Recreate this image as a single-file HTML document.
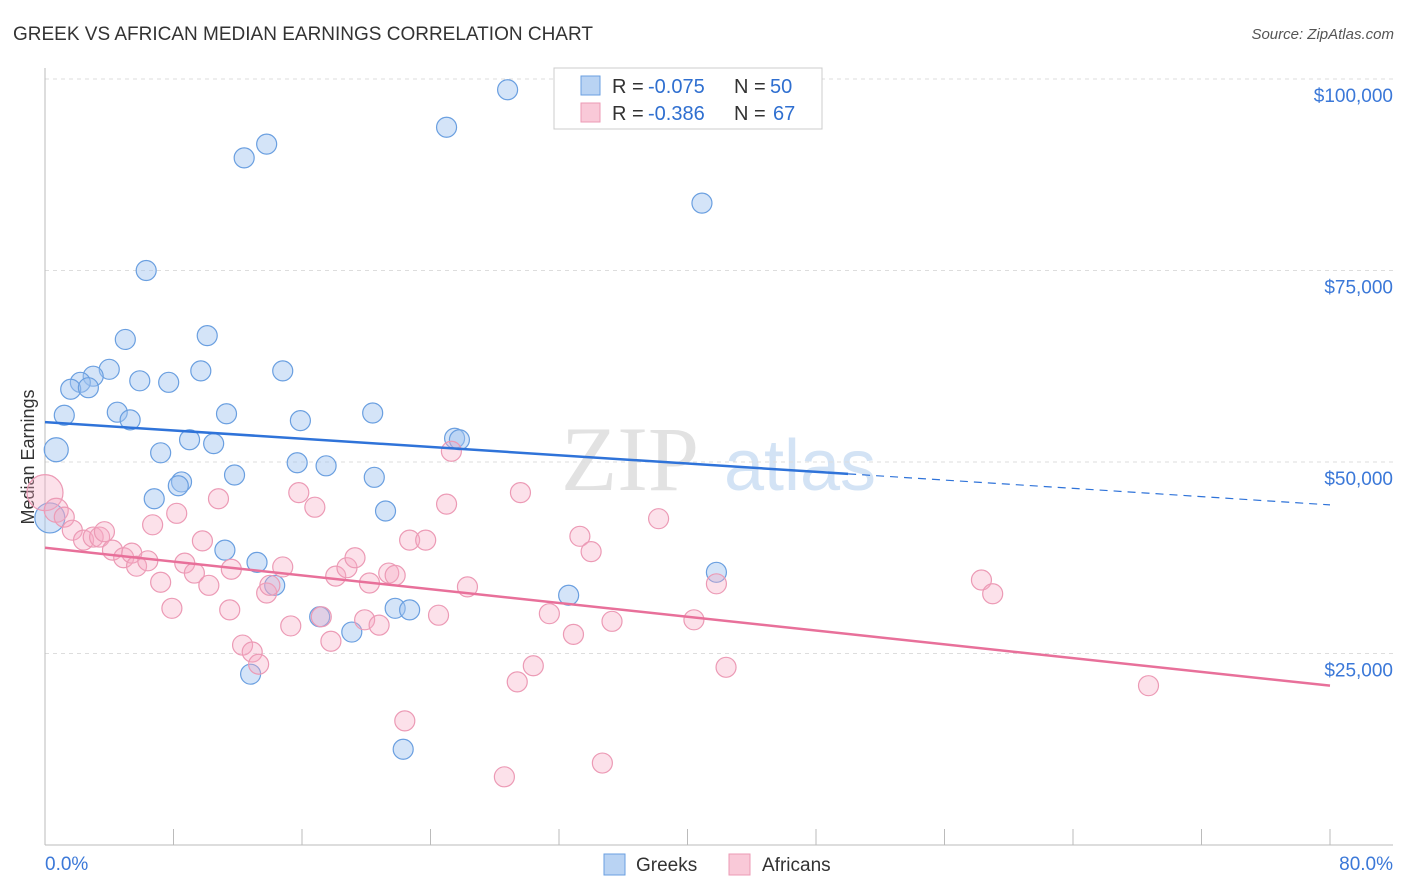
<!DOCTYPE html>
<html><head><meta charset="utf-8"><style>
body{margin:0;background:#fff;font-family:"Liberation Sans",sans-serif;}
svg{display:block}
</style></head><body>
<svg id="chart" width="1406" height="892" viewBox="0 0 1406 892" xmlns="http://www.w3.org/2000/svg">
<text x="13" y="40" font-size="19" fill="#333">GREEK VS AFRICAN MEDIAN EARNINGS CORRELATION CHART</text>
<text x="1394" y="39" font-size="15" fill="#555" text-anchor="end" font-style="italic">Source: ZipAtlas.com</text>
<text transform="translate(34,457) rotate(-90)" font-size="18" fill="#333" text-anchor="middle">Median Earnings</text>
<g>
<text x="630" y="490" font-size="92" fill="#e2e2e2" text-anchor="middle" font-family="Liberation Serif,serif">ZIP</text>
<text x="800" y="490" font-size="72" fill="#d3e3f5" text-anchor="middle">atlas</text>
</g>
<g id="grid"></g><g id="axes"></g><g id="marks"></g><g id="lines"></g>
<g>
<rect x="554" y="68" width="268" height="61" fill="#fff" stroke="#ccc"/>
<rect x="581" y="76" width="19" height="19" fill="#b9d3f3" stroke="#6a9fe0"/>
<rect x="581" y="103" width="19" height="19" fill="#f9c9d8" stroke="#ec9ab5"/>
<text x="612" y="93" font-size="20" fill="#333">R =</text>
<text x="648" y="93" font-size="20" fill="#2f6fd0">-0.075</text>
<text x="734" y="93" font-size="20" fill="#333">N =</text>
<text x="770" y="93" font-size="20" fill="#2f6fd0">50</text>
<text x="612" y="120" font-size="20" fill="#333">R =</text>
<text x="648" y="120" font-size="20" fill="#2f6fd0">-0.386</text>
<text x="734" y="120" font-size="20" fill="#333">N =</text>
<text x="773" y="120" font-size="20" fill="#2f6fd0">67</text>
</g>
<g>
<rect x="604" y="854" width="21" height="21" fill="#b9d3f3" stroke="#6a9fe0"/>
<text x="636" y="871" font-size="19" fill="#333">Greeks</text>
<rect x="729" y="854" width="21" height="21" fill="#f9c9d8" stroke="#ec9ab5"/>
<text x="762" y="871" font-size="19" fill="#333">Africans</text>
</g>
</svg>
<script>
const xTicks=[0,10,20,30,40,50,60,70,80];
const yTicks=[25,50,75,100];
const yTickLabels=["$25,000","$50,000","$75,000","$100,000"];
const greekX=[28.8,25.0,13.8,12.4,40.9,6.3,5.0,10.1,4.0,9.7,14.8,3.0,2.2,5.9,7.7,1.6,2.7,1.2,4.5,5.3,11.3,20.4,15.9,0.7,7.2,9.0,10.5,25.5,25.8,15.7,17.5,11.8,20.5,8.5,8.3,6.8,21.2,0.3,11.2,13.2,41.8,14.3,32.6,21.8,22.7,17.1,19.1,12.8,22.3];
const greekY=[98.6,93.7,91.5,89.7,83.8,75.0,66.0,66.5,62.1,61.9,61.9,61.2,60.4,60.6,60.4,59.5,59.7,56.1,56.5,55.5,56.3,56.4,55.4,51.6,51.2,52.9,52.4,53.1,52.9,49.9,49.5,48.3,48.0,47.4,46.9,45.2,43.6,42.7,38.5,36.9,35.6,33.9,32.6,30.9,30.7,29.8,27.8,22.3,12.5];
const greekR=[10,10,10,10,10,10,10,10,10,10,10,10,10,10,10,10,10,10,10,10,10,10,10,12,10,10,10,10,10,10,10,10,10,10,10,10,10,15,10,10,10,10,10,10,10,10,10,10,10];
const africanX=[0.0,0.7,1.2,1.7,2.4,3.0,3.4,3.7,4.2,4.9,5.4,5.7,6.4,6.7,7.2,7.9,8.2,8.7,9.3,9.8,10.2,10.8,11.5,11.6,12.3,12.9,13.3,13.8,14.0,14.8,15.3,15.8,16.8,17.2,17.8,18.1,18.8,19.3,19.9,20.2,20.8,21.4,21.8,22.4,22.7,23.7,24.5,25.0,25.3,26.3,28.6,29.4,29.6,30.4,31.4,32.9,33.3,34.0,34.7,35.3,38.2,40.4,41.8,42.4,58.3,59.0,68.7];
const africanY=[46.0,43.7,42.8,41.1,39.8,40.2,40.2,40.9,38.5,37.5,38.1,36.4,37.1,41.8,34.3,30.9,43.3,36.8,35.5,39.7,33.9,45.2,30.7,36.0,26.1,25.2,23.6,32.9,33.9,36.3,28.6,46.0,44.1,29.8,26.6,35.1,36.2,37.5,29.4,34.2,28.7,35.5,35.2,16.2,39.8,39.8,30.0,44.5,51.4,33.7,8.9,21.3,46.0,23.4,30.2,27.5,40.3,38.3,10.7,29.2,42.6,29.4,34.1,23.2,34.6,32.8,20.8];
const greekTrend=[55.2,44.4];
const africanTrend=[38.8,20.8];
const greekSolidEnd=50;

const NS="http://www.w3.org/2000/svg";
const X0=45,X1=1330,Y0=845,Y100=79;
const sx=v=>X0+(v/80)*(X1-X0);
const sy=v=>Y0-(v/100)*(Y0-Y100);
function mk(tag,attrs,parent){const e=document.createElementNS(NS,tag);for(const k in attrs)e.setAttribute(k,attrs[k]);document.getElementById(parent).appendChild(e);return e;}
yTicks.forEach((t,i)=>{
 const g=mk('line',{x1:X0,x2:1393,y1:sy(t),y2:sy(t),stroke:'#ddd','stroke-dasharray':'4,4'},'grid');
 
 
 const l=mk('text',{x:1393,y:sy(t)+23,'font-size':19,fill:'#3b78d8','text-anchor':'end'},'axes');
 l.textContent=yTickLabels[i];
 
 
});
const ya=mk('line',{x1:X0,x2:X0,y1:68,y2:Y0,stroke:'#bbb'},'axes');


const xa=mk('line',{x1:X0,x2:1393,y1:Y0,y2:Y0,stroke:'#bbb'},'axes');


for(let v=0;v<=80;v+=8){
 const t=mk('line',{x1:sx(v),x2:sx(v),y1:829,y2:Y0,stroke:'#bbb'},'axes');
 
 
}
const xl0=mk('text',{x:45,y:870,'font-size':19,fill:'#3b78d8'},'axes');xl0.textContent='0.0%';


const xl1=mk('text',{x:1393,y:870,'font-size':19,fill:'#3b78d8','text-anchor':'end'},'axes');xl1.textContent='80.0%';


greekX.forEach((x,i)=>{
 const c=mk('circle',{cx:sx(x),cy:sy(greekY[i]),r:greekR[i],fill:'rgba(160,196,240,0.45)',stroke:'#6a9fe0','stroke-width':1.2},'marks');
 
 
});
africanX.forEach((x,i)=>{
 const r=i===0?18:(i===1?12:10);
 const c=mk('circle',{cx:sx(x),cy:sy(africanY[i]),r:r,fill:'rgba(245,170,195,0.35)',stroke:'#ec9ab5','stroke-width':1.2},'marks');
 
 
});
const gy=x=>greekTrend[0]+(greekTrend[1]-greekTrend[0])*x/80;
const l1=mk('line',{x1:sx(0),y1:sy(gy(0)),x2:sx(greekSolidEnd),y2:sy(gy(greekSolidEnd)),stroke:'#2f73d9','stroke-width':2.5},'lines');


const l2=mk('line',{x1:sx(greekSolidEnd),y1:sy(gy(greekSolidEnd)),x2:sx(80),y2:sy(gy(80)),stroke:'#2f73d9','stroke-width':1.2,'stroke-dasharray':'8,6'},'lines');


const l3=mk('line',{x1:sx(0),y1:sy(africanTrend[0]),x2:sx(80),y2:sy(africanTrend[1]),stroke:'#e8709a','stroke-width':2.5},'lines');


</script>
</body></html>
